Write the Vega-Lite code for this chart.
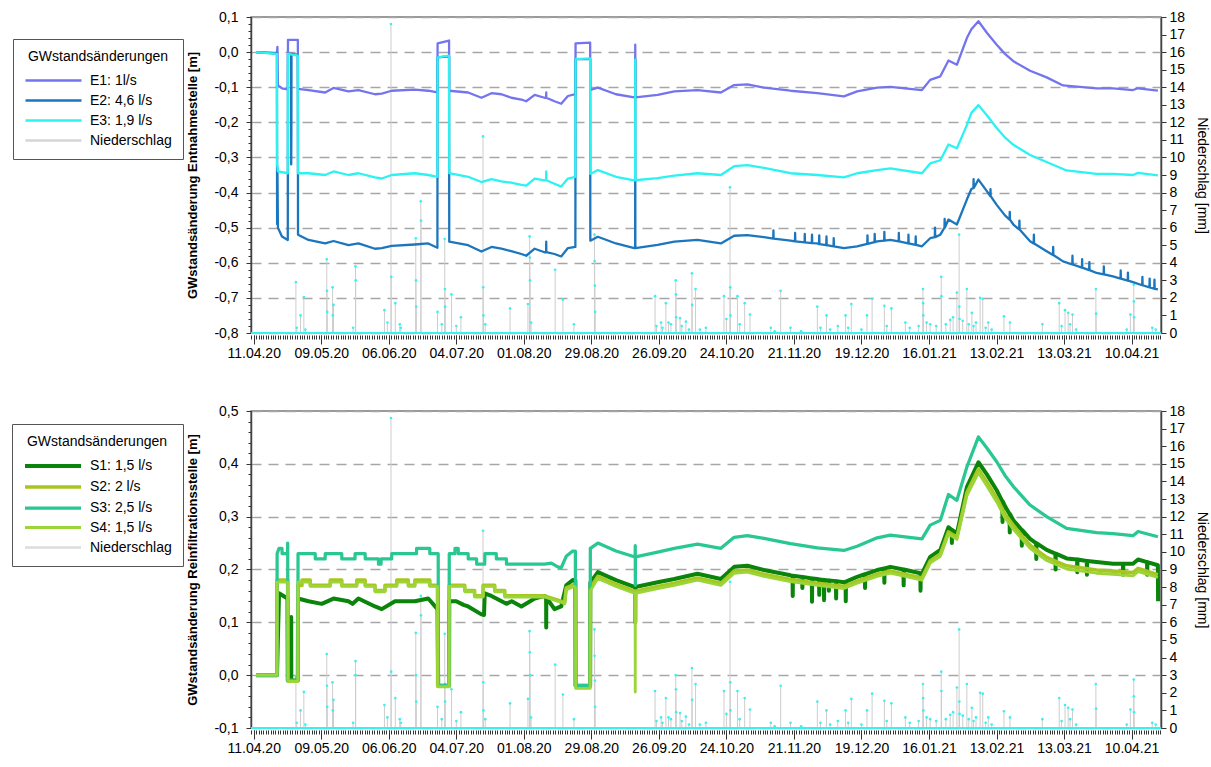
{
"$schema": "https://vega.github.io/schema/vega-lite/v6.json",
"padding": {"left": 10, "top": 9, "right": 5, "bottom": 5},
"spacing": 42,
"config": {
  "font": "Liberation Sans",
  "view": {"stroke": "#7a7a7a", "strokeWidth": 1.5},
  "axis": {"labelColor": "#000", "titleColor": "#000", "labelFontSize": 14, "labelOverlap": false, "labelFlush": false},
  "locale": {"number": {"decimal": ",", "thousands": ".", "grouping": [3], "currency": ["", " €"], "minus": "-"}}
},
"datasets": {
"precip": [
{"t":"2020-04-28T12:00","mm":2.9},{"t":"2020-04-28T20:00","mm":0.3},{"t":"2020-04-30T10:00","mm":1.0},{"t":"2020-05-01T19:00","mm":2.05},{"t":"2020-05-02T10:00","mm":0.2},
{"t":"2020-05-11T07:00","mm":4.2},{"t":"2020-05-11T09:00","mm":2.4},{"t":"2020-05-11T11:00","mm":1.2},{"t":"2020-05-13T17:00","mm":2.6},{"t":"2020-05-13T19:00","mm":1.0},
{"t":"2020-05-14T02:00","mm":1.6},{"t":"2020-05-22T05:00","mm":0.3},{"t":"2020-05-23T05:00","mm":3.8},{"t":"2020-05-23T07:00","mm":3.0},{"t":"2020-06-04T05:00","mm":1.3},
{"t":"2020-06-05T10:00","mm":0.6},{"t":"2020-06-06T22:00","mm":17.6},{"t":"2020-06-07T00:00","mm":3.2},{"t":"2020-06-08T17:00","mm":1.7},{"t":"2020-06-10T14:00","mm":0.5},
{"t":"2020-06-11T00:00","mm":0.3},{"t":"2020-06-17T05:00","mm":5.4},{"t":"2020-06-17T07:00","mm":3.0},{"t":"2020-06-17T09:00","mm":1.5},{"t":"2020-06-19T07:00","mm":7.5},
{"t":"2020-06-19T09:00","mm":6.4},{"t":"2020-06-26T05:00","mm":1.2},{"t":"2020-06-28T00:00","mm":0.5},{"t":"2020-06-29T05:00","mm":5.35},{"t":"2020-06-29T07:00","mm":2.5},
{"t":"2020-06-29T09:00","mm":1.5},{"t":"2020-07-02T00:00","mm":2.2},{"t":"2020-07-04T00:00","mm":0.4},{"t":"2020-07-05T22:00","mm":0.9},{"t":"2020-07-15T02:00","mm":11.2},
{"t":"2020-07-15T04:00","mm":2.6},{"t":"2020-07-15T06:00","mm":1.0},{"t":"2020-07-16T00:00","mm":0.5},{"t":"2020-07-26T07:00","mm":1.4},{"t":"2020-08-02T17:00","mm":1.65},
{"t":"2020-08-03T10:00","mm":5.5},{"t":"2020-08-03T12:00","mm":4.3},{"t":"2020-08-03T14:00","mm":3.0},{"t":"2020-08-04T00:00","mm":0.6},{"t":"2020-08-14T00:00","mm":3.6},
{"t":"2020-08-17T05:00","mm":1.9},{"t":"2020-08-21T19:00","mm":0.5},{"t":"2020-08-30T07:00","mm":5.6},{"t":"2020-08-30T09:00","mm":4.1},{"t":"2020-08-30T11:00","mm":2.7},
{"t":"2020-08-30T13:00","mm":1.2},{"t":"2020-09-24T10:00","mm":2.1},{"t":"2020-09-25T00:00","mm":0.4},{"t":"2020-09-26T22:00","mm":0.6},{"t":"2020-09-27T12:00","mm":0.3},
{"t":"2020-09-28T22:00","mm":1.7},{"t":"2020-09-30T00:00","mm":0.6},{"t":"2020-10-01T00:00","mm":0.5},{"t":"2020-10-03T00:00","mm":3.0},{"t":"2020-10-03T02:00","mm":2.2},
{"t":"2020-10-03T04:00","mm":0.9},{"t":"2020-10-04T19:00","mm":0.85},{"t":"2020-10-05T12:00","mm":0.4},{"t":"2020-10-07T05:00","mm":0.65},{"t":"2020-10-08T12:00","mm":0.2},
{"t":"2020-10-09T17:00","mm":3.4},{"t":"2020-10-09T19:00","mm":1.6},{"t":"2020-10-11T05:00","mm":2.5},{"t":"2020-10-13T00:00","mm":0.2},{"t":"2020-10-15T12:00","mm":0.3},
{"t":"2020-10-23T00:00","mm":2.1},{"t":"2020-10-24T00:00","mm":0.8},{"t":"2020-10-25T12:00","mm":8.3},{"t":"2020-10-25T14:00","mm":2.6},{"t":"2020-10-25T16:00","mm":1.0},
{"t":"2020-10-28T14:00","mm":2.1},{"t":"2020-10-29T12:00","mm":0.5},{"t":"2020-10-31T14:00","mm":1.7},{"t":"2020-11-02T19:00","mm":1.05},{"t":"2020-11-11T10:00","mm":0.3},
{"t":"2020-11-13T00:00","mm":0.1},{"t":"2020-11-15T12:00","mm":2.4},{"t":"2020-11-19T14:00","mm":0.3},{"t":"2020-11-24T00:00","mm":0.1},{"t":"2020-11-30T17:00","mm":1.5},
{"t":"2020-12-02T00:00","mm":0.3},{"t":"2020-12-04T12:00","mm":1.0},{"t":"2020-12-06T00:00","mm":0.2},{"t":"2020-12-09T05:00","mm":0.4},{"t":"2020-12-12T10:00","mm":1.0},
{"t":"2020-12-13T12:00","mm":0.3},{"t":"2020-12-14T19:00","mm":1.65},{"t":"2020-12-19T00:00","mm":0.2},{"t":"2020-12-21T07:00","mm":1.0},{"t":"2020-12-23T10:00","mm":1.95},
{"t":"2020-12-28T12:00","mm":1.55},{"t":"2020-12-29T12:00","mm":0.4},{"t":"2020-12-31T10:00","mm":1.4},{"t":"2021-01-06T05:00","mm":0.6},{"t":"2021-01-08T00:00","mm":0.3},
{"t":"2021-01-11T17:00","mm":0.4},{"t":"2021-01-13T12:00","mm":2.5},{"t":"2021-01-13T14:00","mm":1.7},{"t":"2021-01-13T16:00","mm":1.0},{"t":"2021-01-15T00:00","mm":0.6},
{"t":"2021-01-16T12:00","mm":0.5},{"t":"2021-01-19T00:00","mm":0.4},{"t":"2021-01-21T02:00","mm":3.2},{"t":"2021-01-21T04:00","mm":2.1},{"t":"2021-01-23T00:00","mm":0.5},
{"t":"2021-01-24T19:00","mm":0.75},{"t":"2021-01-26T00:00","mm":0.9},{"t":"2021-01-27T14:00","mm":2.3},{"t":"2021-01-28T12:00","mm":5.6},{"t":"2021-01-28T14:00","mm":1.5},
{"t":"2021-01-28T16:00","mm":0.8},{"t":"2021-01-30T00:00","mm":0.7},{"t":"2021-01-31T17:00","mm":2.5},{"t":"2021-02-01T12:00","mm":0.5},{"t":"2021-02-02T19:00","mm":1.15},
{"t":"2021-02-03T12:00","mm":0.4},{"t":"2021-02-04T12:00","mm":0.6},{"t":"2021-02-06T05:00","mm":2.0},{"t":"2021-02-07T07:00","mm":1.95},{"t":"2021-02-08T12:00","mm":0.3},
{"t":"2021-02-09T14:00","mm":0.6},{"t":"2021-02-11T00:00","mm":0.2},{"t":"2021-02-16T02:00","mm":0.95},{"t":"2021-02-18T14:00","mm":0.6},{"t":"2021-03-04T00:00","mm":0.5},
{"t":"2021-03-11T00:00","mm":1.7},{"t":"2021-03-12T00:00","mm":0.4},{"t":"2021-03-13T10:00","mm":1.3},{"t":"2021-03-14T17:00","mm":1.15},{"t":"2021-03-15T12:00","mm":0.5},
{"t":"2021-03-16T12:00","mm":1.05},{"t":"2021-03-18T00:00","mm":0.2},{"t":"2021-03-26T05:00","mm":2.5},{"t":"2021-03-26T07:00","mm":1.1},{"t":"2021-04-08T00:00","mm":0.2},
{"t":"2021-04-09T12:00","mm":1.05},{"t":"2021-04-10T22:00","mm":2.75},{"t":"2021-04-10T23:00","mm":1.8},{"t":"2021-04-11T01:00","mm":0.9},{"t":"2021-04-18T14:00","mm":0.3},
{"t":"2021-04-20T00:00","mm":0.2}
],
"top": [
{"s":"E1: 1l/s","t":"2020-04-12T00:00","v":0},{"s":"E1: 1l/s","t":"2020-04-20T15:00","v":-0.003},{"s":"E1: 1l/s","t":"2020-04-20T20:00","v":0.015},{"s":"E1: 1l/s","t":"2020-04-21T01:00","v":-0.095},
{"s":"E1: 1l/s","t":"2020-04-22T17:00","v":-0.103},{"s":"E1: 1l/s","t":"2020-04-25T03:00","v":-0.106},{"s":"E1: 1l/s","t":"2020-04-25T05:00","v":0.035},{"s":"E1: 1l/s","t":"2020-04-29T07:00","v":0.035},
{"s":"E1: 1l/s","t":"2020-04-29T09:00","v":-0.105},{"s":"E1: 1l/s","t":"2020-05-03T17:00","v":-0.108},{"s":"E1: 1l/s","t":"2020-05-10T15:00","v":-0.115},{"s":"E1: 1l/s","t":"2020-05-14T02:00","v":-0.102},
{"s":"E1: 1l/s","t":"2020-05-20T07:00","v":-0.112},{"s":"E1: 1l/s","t":"2020-05-24T10:00","v":-0.108},{"s":"E1: 1l/s","t":"2020-05-31T07:00","v":-0.12},{"s":"E1: 1l/s","t":"2020-06-03T02:00","v":-0.118},
{"s":"E1: 1l/s","t":"2020-06-07T05:00","v":-0.11},{"s":"E1: 1l/s","t":"2020-06-16T19:00","v":-0.107},{"s":"E1: 1l/s","t":"2020-06-22T09:00","v":-0.11},{"s":"E1: 1l/s","t":"2020-06-26T04:00","v":-0.115},
{"s":"E1: 1l/s","t":"2020-06-26T06:00","v":0.025},{"s":"E1: 1l/s","t":"2020-07-01T00:00","v":0.033},{"s":"E1: 1l/s","t":"2020-07-01T02:00","v":-0.11},{"s":"E1: 1l/s","t":"2020-07-08T22:00","v":-0.115},
{"s":"E1: 1l/s","t":"2020-07-14T10:00","v":-0.13},{"s":"E1: 1l/s","t":"2020-07-18T14:00","v":-0.117},{"s":"E1: 1l/s","t":"2020-07-22T17:00","v":-0.12},{"s":"E1: 1l/s","t":"2020-07-26T19:00","v":-0.13},
{"s":"E1: 1l/s","t":"2020-07-31T00:00","v":-0.135},{"s":"E1: 1l/s","t":"2020-08-02T00:00","v":-0.14},{"s":"E1: 1l/s","t":"2020-08-05T12:00","v":-0.122},{"s":"E1: 1l/s","t":"2020-08-09T14:00","v":-0.13},
{"s":"E1: 1l/s","t":"2020-08-10T06:00","v":-0.13},{"s":"E1: 1l/s","t":"2020-08-10T07:00","v":-0.115},{"s":"E1: 1l/s","t":"2020-08-10T08:00","v":-0.13},{"s":"E1: 1l/s","t":"2020-08-13T17:00","v":-0.14},
{"s":"E1: 1l/s","t":"2020-08-16T12:00","v":-0.147},{"s":"E1: 1l/s","t":"2020-08-19T07:00","v":-0.125},{"s":"E1: 1l/s","t":"2020-08-22T09:00","v":-0.12},{"s":"E1: 1l/s","t":"2020-08-22T11:00","v":0.025},
{"s":"E1: 1l/s","t":"2020-08-28T12:00","v":0.027},{"s":"E1: 1l/s","t":"2020-08-28T14:00","v":-0.108},{"s":"E1: 1l/s","t":"2020-08-31T17:00","v":-0.101},{"s":"E1: 1l/s","t":"2020-09-08T05:00","v":-0.12},
{"s":"E1: 1l/s","t":"2020-09-15T19:00","v":-0.129},{"s":"E1: 1l/s","t":"2020-09-16T04:00","v":-0.129},{"s":"E1: 1l/s","t":"2020-09-16T05:00","v":0.021},{"s":"E1: 1l/s","t":"2020-09-16T06:00","v":-0.129},
{"s":"E1: 1l/s","t":"2020-09-25T12:00","v":-0.122},{"s":"E1: 1l/s","t":"2020-10-02T10:00","v":-0.112},{"s":"E1: 1l/s","t":"2020-10-12T00:00","v":-0.108},{"s":"E1: 1l/s","t":"2020-10-21T17:00","v":-0.115},
{"s":"E1: 1l/s","t":"2020-10-27T05:00","v":-0.094},{"s":"E1: 1l/s","t":"2020-11-01T17:00","v":-0.092},{"s":"E1: 1l/s","t":"2020-11-08T14:00","v":-0.101},{"s":"E1: 1l/s","t":"2020-11-19T14:00","v":-0.11},
{"s":"E1: 1l/s","t":"2020-11-30T17:00","v":-0.117},{"s":"E1: 1l/s","t":"2020-12-11T17:00","v":-0.126},{"s":"E1: 1l/s","t":"2020-12-17T05:00","v":-0.112},{"s":"E1: 1l/s","t":"2020-12-25T12:00","v":-0.101},
{"s":"E1: 1l/s","t":"2020-12-31T00:00","v":-0.099},{"s":"E1: 1l/s","t":"2021-01-13T02:00","v":-0.108},{"s":"E1: 1l/s","t":"2021-01-16T12:00","v":-0.079},{"s":"E1: 1l/s","t":"2021-01-20T17:00","v":-0.069},
{"s":"E1: 1l/s","t":"2021-01-24T02:00","v":-0.024},{"s":"E1: 1l/s","t":"2021-01-27T14:00","v":-0.036},{"s":"E1: 1l/s","t":"2021-01-31T17:00","v":0.04},{"s":"E1: 1l/s","t":"2021-02-02T14:00","v":0.065},
{"s":"E1: 1l/s","t":"2021-02-05T12:00","v":0.088},{"s":"E1: 1l/s","t":"2021-02-09T00:00","v":0.055},{"s":"E1: 1l/s","t":"2021-02-13T02:00","v":0.021},{"s":"E1: 1l/s","t":"2021-02-16T12:00","v":-0.005},
{"s":"E1: 1l/s","t":"2021-02-20T00:00","v":-0.026},{"s":"E1: 1l/s","t":"2021-02-26T22:00","v":-0.053},{"s":"E1: 1l/s","t":"2021-03-05T19:00","v":-0.072},{"s":"E1: 1l/s","t":"2021-03-12T14:00","v":-0.095},
{"s":"E1: 1l/s","t":"2021-03-26T12:00","v":-0.103},{"s":"E1: 1l/s","t":"2021-04-02T07:00","v":-0.103},{"s":"E1: 1l/s","t":"2021-04-10T14:00","v":-0.108},{"s":"E1: 1l/s","t":"2021-04-12T17:00","v":-0.103},
{"s":"E1: 1l/s","t":"2021-04-20T22:00","v":-0.11},

{"s":"E2: 4,6 l/s","t":"2020-04-12T00:00","v":0},{"s":"E2: 4,6 l/s","t":"2020-04-20T15:00","v":-0.004},{"s":"E2: 4,6 l/s","t":"2020-04-20T17:00","v":-0.49},{"s":"E2: 4,6 l/s","t":"2020-04-20T20:00","v":-0.33},
{"s":"E2: 4,6 l/s","t":"2020-04-21T01:00","v":-0.5},{"s":"E2: 4,6 l/s","t":"2020-04-22T17:00","v":-0.525},{"s":"E2: 4,6 l/s","t":"2020-04-25T03:00","v":-0.535},{"s":"E2: 4,6 l/s","t":"2020-04-25T05:00","v":-0.005},
{"s":"E2: 4,6 l/s","t":"2020-04-26T12:00","v":-0.005},{"s":"E2: 4,6 l/s","t":"2020-04-26T13:00","v":-0.32},{"s":"E2: 4,6 l/s","t":"2020-04-26T15:00","v":-0.22},{"s":"E2: 4,6 l/s","t":"2020-04-26T16:00","v":-0.005},
{"s":"E2: 4,6 l/s","t":"2020-04-29T07:00","v":-0.008},{"s":"E2: 4,6 l/s","t":"2020-04-29T09:00","v":-0.52},{"s":"E2: 4,6 l/s","t":"2020-05-03T17:00","v":-0.535},{"s":"E2: 4,6 l/s","t":"2020-05-10T15:00","v":-0.545},
{"s":"E2: 4,6 l/s","t":"2020-05-14T02:00","v":-0.538},{"s":"E2: 4,6 l/s","t":"2020-05-20T07:00","v":-0.55},{"s":"E2: 4,6 l/s","t":"2020-05-24T10:00","v":-0.545},{"s":"E2: 4,6 l/s","t":"2020-05-31T07:00","v":-0.56},
{"s":"E2: 4,6 l/s","t":"2020-06-03T02:00","v":-0.558},{"s":"E2: 4,6 l/s","t":"2020-06-07T05:00","v":-0.552},{"s":"E2: 4,6 l/s","t":"2020-06-16T19:00","v":-0.548},{"s":"E2: 4,6 l/s","t":"2020-06-22T09:00","v":-0.545},
{"s":"E2: 4,6 l/s","t":"2020-06-26T04:00","v":-0.557},{"s":"E2: 4,6 l/s","t":"2020-06-26T06:00","v":-0.015},{"s":"E2: 4,6 l/s","t":"2020-07-01T00:00","v":-0.012},{"s":"E2: 4,6 l/s","t":"2020-07-01T02:00","v":-0.54},
{"s":"E2: 4,6 l/s","t":"2020-07-08T22:00","v":-0.55},{"s":"E2: 4,6 l/s","t":"2020-07-14T10:00","v":-0.568},{"s":"E2: 4,6 l/s","t":"2020-07-18T14:00","v":-0.555},{"s":"E2: 4,6 l/s","t":"2020-07-22T17:00","v":-0.56},
{"s":"E2: 4,6 l/s","t":"2020-07-26T19:00","v":-0.567},{"s":"E2: 4,6 l/s","t":"2020-07-31T00:00","v":-0.575},{"s":"E2: 4,6 l/s","t":"2020-08-02T00:00","v":-0.58},{"s":"E2: 4,6 l/s","t":"2020-08-05T12:00","v":-0.56},
{"s":"E2: 4,6 l/s","t":"2020-08-09T14:00","v":-0.57},{"s":"E2: 4,6 l/s","t":"2020-08-10T06:00","v":-0.57},{"s":"E2: 4,6 l/s","t":"2020-08-10T07:00","v":-0.54},{"s":"E2: 4,6 l/s","t":"2020-08-10T08:00","v":-0.57},
{"s":"E2: 4,6 l/s","t":"2020-08-13T17:00","v":-0.575},{"s":"E2: 4,6 l/s","t":"2020-08-16T12:00","v":-0.582},{"s":"E2: 4,6 l/s","t":"2020-08-19T07:00","v":-0.558},{"s":"E2: 4,6 l/s","t":"2020-08-22T09:00","v":-0.555},
{"s":"E2: 4,6 l/s","t":"2020-08-22T11:00","v":-0.02},{"s":"E2: 4,6 l/s","t":"2020-08-28T12:00","v":-0.02},{"s":"E2: 4,6 l/s","t":"2020-08-28T14:00","v":-0.537},{"s":"E2: 4,6 l/s","t":"2020-08-31T17:00","v":-0.526},
{"s":"E2: 4,6 l/s","t":"2020-09-08T05:00","v":-0.545},{"s":"E2: 4,6 l/s","t":"2020-09-15T19:00","v":-0.558},{"s":"E2: 4,6 l/s","t":"2020-09-16T04:00","v":-0.558},{"s":"E2: 4,6 l/s","t":"2020-09-16T05:00","v":-0.02},
{"s":"E2: 4,6 l/s","t":"2020-09-16T06:00","v":-0.558},{"s":"E2: 4,6 l/s","t":"2020-09-25T12:00","v":-0.549},{"s":"E2: 4,6 l/s","t":"2020-10-02T10:00","v":-0.54},{"s":"E2: 4,6 l/s","t":"2020-10-12T00:00","v":-0.535},
{"s":"E2: 4,6 l/s","t":"2020-10-21T17:00","v":-0.545},{"s":"E2: 4,6 l/s","t":"2020-10-27T05:00","v":-0.523},{"s":"E2: 4,6 l/s","t":"2020-11-01T17:00","v":-0.521},{"s":"E2: 4,6 l/s","t":"2020-11-08T14:00","v":-0.527},
{"s":"E2: 4,6 l/s","t":"2020-11-19T14:00","v":-0.537},{"s":"E2: 4,6 l/s","t":"2020-11-30T17:00","v":-0.545},{"s":"E2: 4,6 l/s","t":"2020-12-11T17:00","v":-0.558},{"s":"E2: 4,6 l/s","t":"2020-12-17T05:00","v":-0.553},
{"s":"E2: 4,6 l/s","t":"2020-12-25T12:00","v":-0.539},{"s":"E2: 4,6 l/s","t":"2020-12-31T00:00","v":-0.535},{"s":"E2: 4,6 l/s","t":"2021-01-13T02:00","v":-0.553},{"s":"E2: 4,6 l/s","t":"2021-01-16T12:00","v":-0.53},
{"s":"E2: 4,6 l/s","t":"2021-01-20T17:00","v":-0.52},{"s":"E2: 4,6 l/s","t":"2021-01-24T02:00","v":-0.477},{"s":"E2: 4,6 l/s","t":"2021-01-27T14:00","v":-0.491},{"s":"E2: 4,6 l/s","t":"2021-01-31T17:00","v":-0.42},
{"s":"E2: 4,6 l/s","t":"2021-02-02T14:00","v":-0.39},{"s":"E2: 4,6 l/s","t":"2021-02-05T12:00","v":-0.363},{"s":"E2: 4,6 l/s","t":"2021-02-09T00:00","v":-0.396},{"s":"E2: 4,6 l/s","t":"2021-02-13T02:00","v":-0.435},
{"s":"E2: 4,6 l/s","t":"2021-02-16T12:00","v":-0.465},{"s":"E2: 4,6 l/s","t":"2021-02-20T00:00","v":-0.491},{"s":"E2: 4,6 l/s","t":"2021-02-26T22:00","v":-0.539},{"s":"E2: 4,6 l/s","t":"2021-03-05T19:00","v":-0.567},
{"s":"E2: 4,6 l/s","t":"2021-03-12T14:00","v":-0.596},{"s":"E2: 4,6 l/s","t":"2021-03-26T12:00","v":-0.629},{"s":"E2: 4,6 l/s","t":"2021-04-02T07:00","v":-0.639},{"s":"E2: 4,6 l/s","t":"2021-04-10T14:00","v":-0.655},
{"s":"E2: 4,6 l/s","t":"2021-04-20T22:00","v":-0.676},
{"s":"E2: 4,6 l/s","t":"2020-11-12T10:00","v":-0.531},{"s":"E2: 4,6 l/s","t":"2020-11-12T12:00","v":-0.508},{"s":"E2: 4,6 l/s","t":"2020-11-12T14:00","v":-0.531},
{"s":"E2: 4,6 l/s","t":"2020-11-21T10:00","v":-0.539},{"s":"E2: 4,6 l/s","t":"2020-11-21T12:00","v":-0.515},{"s":"E2: 4,6 l/s","t":"2020-11-21T14:00","v":-0.539},
{"s":"E2: 4,6 l/s","t":"2020-11-25T10:00","v":-0.542},{"s":"E2: 4,6 l/s","t":"2020-11-25T12:00","v":-0.518},{"s":"E2: 4,6 l/s","t":"2020-11-25T14:00","v":-0.542},
{"s":"E2: 4,6 l/s","t":"2020-11-28T10:00","v":-0.544},{"s":"E2: 4,6 l/s","t":"2020-11-28T12:00","v":-0.52},{"s":"E2: 4,6 l/s","t":"2020-11-28T14:00","v":-0.544},
{"s":"E2: 4,6 l/s","t":"2020-12-01T10:00","v":-0.547},{"s":"E2: 4,6 l/s","t":"2020-12-01T12:00","v":-0.522},{"s":"E2: 4,6 l/s","t":"2020-12-01T14:00","v":-0.547},
{"s":"E2: 4,6 l/s","t":"2020-12-04T10:00","v":-0.55},{"s":"E2: 4,6 l/s","t":"2020-12-04T12:00","v":-0.525},{"s":"E2: 4,6 l/s","t":"2020-12-04T14:00","v":-0.55},
{"s":"E2: 4,6 l/s","t":"2020-12-07T10:00","v":-0.553},{"s":"E2: 4,6 l/s","t":"2020-12-07T12:00","v":-0.53},{"s":"E2: 4,6 l/s","t":"2020-12-07T14:00","v":-0.553},
{"s":"E2: 4,6 l/s","t":"2020-12-21T10:00","v":-0.546},{"s":"E2: 4,6 l/s","t":"2020-12-21T12:00","v":-0.522},{"s":"E2: 4,6 l/s","t":"2020-12-21T14:00","v":-0.546},
{"s":"E2: 4,6 l/s","t":"2020-12-24T10:00","v":-0.541},{"s":"E2: 4,6 l/s","t":"2020-12-24T12:00","v":-0.518},{"s":"E2: 4,6 l/s","t":"2020-12-24T14:00","v":-0.541},
{"s":"E2: 4,6 l/s","t":"2020-12-28T10:00","v":-0.537},{"s":"E2: 4,6 l/s","t":"2020-12-28T12:00","v":-0.512},{"s":"E2: 4,6 l/s","t":"2020-12-28T14:00","v":-0.537},
{"s":"E2: 4,6 l/s","t":"2021-01-03T10:00","v":-0.539},{"s":"E2: 4,6 l/s","t":"2021-01-03T12:00","v":-0.515},{"s":"E2: 4,6 l/s","t":"2021-01-03T14:00","v":-0.539},
{"s":"E2: 4,6 l/s","t":"2021-01-07T10:00","v":-0.545},{"s":"E2: 4,6 l/s","t":"2021-01-07T12:00","v":-0.52},{"s":"E2: 4,6 l/s","t":"2021-01-07T14:00","v":-0.545},
{"s":"E2: 4,6 l/s","t":"2021-01-10T10:00","v":-0.549},{"s":"E2: 4,6 l/s","t":"2021-01-10T12:00","v":-0.525},{"s":"E2: 4,6 l/s","t":"2021-01-10T14:00","v":-0.549},
{"s":"E2: 4,6 l/s","t":"2021-01-18T10:00","v":-0.527},{"s":"E2: 4,6 l/s","t":"2021-01-18T12:00","v":-0.5},{"s":"E2: 4,6 l/s","t":"2021-01-18T14:00","v":-0.527},
{"s":"E2: 4,6 l/s","t":"2021-01-22T10:00","v":-0.5},{"s":"E2: 4,6 l/s","t":"2021-01-22T12:00","v":-0.475},{"s":"E2: 4,6 l/s","t":"2021-01-22T14:00","v":-0.5},
{"s":"E2: 4,6 l/s","t":"2021-02-03T10:00","v":-0.387},{"s":"E2: 4,6 l/s","t":"2021-02-03T12:00","v":-0.362},{"s":"E2: 4,6 l/s","t":"2021-02-03T14:00","v":-0.387},
{"s":"E2: 4,6 l/s","t":"2021-02-10T10:00","v":-0.41},{"s":"E2: 4,6 l/s","t":"2021-02-10T12:00","v":-0.39},{"s":"E2: 4,6 l/s","t":"2021-02-10T14:00","v":-0.41},
{"s":"E2: 4,6 l/s","t":"2021-02-18T10:00","v":-0.477},{"s":"E2: 4,6 l/s","t":"2021-02-18T12:00","v":-0.455},{"s":"E2: 4,6 l/s","t":"2021-02-18T14:00","v":-0.477},
{"s":"E2: 4,6 l/s","t":"2021-02-22T10:00","v":-0.505},{"s":"E2: 4,6 l/s","t":"2021-02-22T12:00","v":-0.48},{"s":"E2: 4,6 l/s","t":"2021-02-22T14:00","v":-0.505},
{"s":"E2: 4,6 l/s","t":"2021-02-28T10:00","v":-0.545},{"s":"E2: 4,6 l/s","t":"2021-02-28T12:00","v":-0.52},{"s":"E2: 4,6 l/s","t":"2021-02-28T14:00","v":-0.545},
{"s":"E2: 4,6 l/s","t":"2021-03-08T10:00","v":-0.578},{"s":"E2: 4,6 l/s","t":"2021-03-08T12:00","v":-0.555},{"s":"E2: 4,6 l/s","t":"2021-03-08T14:00","v":-0.578},
{"s":"E2: 4,6 l/s","t":"2021-03-16T10:00","v":-0.605},{"s":"E2: 4,6 l/s","t":"2021-03-16T12:00","v":-0.58},{"s":"E2: 4,6 l/s","t":"2021-03-16T14:00","v":-0.605},
{"s":"E2: 4,6 l/s","t":"2021-03-20T10:00","v":-0.614},{"s":"E2: 4,6 l/s","t":"2021-03-20T12:00","v":-0.59},{"s":"E2: 4,6 l/s","t":"2021-03-20T14:00","v":-0.614},
{"s":"E2: 4,6 l/s","t":"2021-03-23T10:00","v":-0.621},{"s":"E2: 4,6 l/s","t":"2021-03-23T12:00","v":-0.598},{"s":"E2: 4,6 l/s","t":"2021-03-23T14:00","v":-0.621},
{"s":"E2: 4,6 l/s","t":"2021-03-29T10:00","v":-0.633},{"s":"E2: 4,6 l/s","t":"2021-03-29T12:00","v":-0.61},{"s":"E2: 4,6 l/s","t":"2021-03-29T14:00","v":-0.633},
{"s":"E2: 4,6 l/s","t":"2021-04-05T10:00","v":-0.645},{"s":"E2: 4,6 l/s","t":"2021-04-05T12:00","v":-0.622},{"s":"E2: 4,6 l/s","t":"2021-04-05T14:00","v":-0.645},
{"s":"E2: 4,6 l/s","t":"2021-04-08T10:00","v":-0.651},{"s":"E2: 4,6 l/s","t":"2021-04-08T12:00","v":-0.628},{"s":"E2: 4,6 l/s","t":"2021-04-08T14:00","v":-0.651},
{"s":"E2: 4,6 l/s","t":"2021-04-14T10:00","v":-0.664},{"s":"E2: 4,6 l/s","t":"2021-04-14T12:00","v":-0.64},{"s":"E2: 4,6 l/s","t":"2021-04-14T14:00","v":-0.664},
{"s":"E2: 4,6 l/s","t":"2021-04-17T10:00","v":-0.67},{"s":"E2: 4,6 l/s","t":"2021-04-17T12:00","v":-0.645},{"s":"E2: 4,6 l/s","t":"2021-04-17T14:00","v":-0.67},
{"s":"E2: 4,6 l/s","t":"2021-04-19T10:00","v":-0.674},{"s":"E2: 4,6 l/s","t":"2021-04-19T12:00","v":-0.648},{"s":"E2: 4,6 l/s","t":"2021-04-19T14:00","v":-0.674},

{"s":"E3: 1,9 l/s","t":"2020-04-12T00:00","v":0},{"s":"E3: 1,9 l/s","t":"2020-04-20T15:00","v":-0.005},{"s":"E3: 1,9 l/s","t":"2020-04-20T17:00","v":-0.32},{"s":"E3: 1,9 l/s","t":"2020-04-21T01:00","v":-0.34},
{"s":"E3: 1,9 l/s","t":"2020-04-22T17:00","v":-0.342},{"s":"E3: 1,9 l/s","t":"2020-04-25T03:00","v":-0.345},{"s":"E3: 1,9 l/s","t":"2020-04-25T05:00","v":-0.005},{"s":"E3: 1,9 l/s","t":"2020-04-29T07:00","v":-0.01},
{"s":"E3: 1,9 l/s","t":"2020-04-29T09:00","v":-0.345},{"s":"E3: 1,9 l/s","t":"2020-05-03T17:00","v":-0.345},{"s":"E3: 1,9 l/s","t":"2020-05-10T15:00","v":-0.35},{"s":"E3: 1,9 l/s","t":"2020-05-14T02:00","v":-0.34},
{"s":"E3: 1,9 l/s","t":"2020-05-20T07:00","v":-0.35},{"s":"E3: 1,9 l/s","t":"2020-05-24T10:00","v":-0.345},{"s":"E3: 1,9 l/s","t":"2020-05-31T07:00","v":-0.357},{"s":"E3: 1,9 l/s","t":"2020-06-03T02:00","v":-0.36},
{"s":"E3: 1,9 l/s","t":"2020-06-07T05:00","v":-0.35},{"s":"E3: 1,9 l/s","t":"2020-06-16T19:00","v":-0.345},{"s":"E3: 1,9 l/s","t":"2020-06-22T09:00","v":-0.35},{"s":"E3: 1,9 l/s","t":"2020-06-26T04:00","v":-0.355},
{"s":"E3: 1,9 l/s","t":"2020-06-26T06:00","v":-0.015},{"s":"E3: 1,9 l/s","t":"2020-07-01T00:00","v":-0.01},{"s":"E3: 1,9 l/s","t":"2020-07-01T02:00","v":-0.345},{"s":"E3: 1,9 l/s","t":"2020-07-08T22:00","v":-0.355},
{"s":"E3: 1,9 l/s","t":"2020-07-14T10:00","v":-0.37},{"s":"E3: 1,9 l/s","t":"2020-07-18T14:00","v":-0.362},{"s":"E3: 1,9 l/s","t":"2020-07-22T17:00","v":-0.368},{"s":"E3: 1,9 l/s","t":"2020-07-26T19:00","v":-0.372},
{"s":"E3: 1,9 l/s","t":"2020-07-31T00:00","v":-0.378},{"s":"E3: 1,9 l/s","t":"2020-08-02T00:00","v":-0.38},{"s":"E3: 1,9 l/s","t":"2020-08-05T12:00","v":-0.36},{"s":"E3: 1,9 l/s","t":"2020-08-09T14:00","v":-0.365},
{"s":"E3: 1,9 l/s","t":"2020-08-10T06:00","v":-0.365},{"s":"E3: 1,9 l/s","t":"2020-08-10T07:00","v":-0.34},{"s":"E3: 1,9 l/s","t":"2020-08-10T08:00","v":-0.365},{"s":"E3: 1,9 l/s","t":"2020-08-13T17:00","v":-0.375},
{"s":"E3: 1,9 l/s","t":"2020-08-16T12:00","v":-0.383},{"s":"E3: 1,9 l/s","t":"2020-08-19T07:00","v":-0.36},{"s":"E3: 1,9 l/s","t":"2020-08-22T09:00","v":-0.355},{"s":"E3: 1,9 l/s","t":"2020-08-22T11:00","v":-0.02},
{"s":"E3: 1,9 l/s","t":"2020-08-28T12:00","v":-0.018},{"s":"E3: 1,9 l/s","t":"2020-08-28T14:00","v":-0.347},{"s":"E3: 1,9 l/s","t":"2020-08-31T17:00","v":-0.336},{"s":"E3: 1,9 l/s","t":"2020-09-08T05:00","v":-0.355},
{"s":"E3: 1,9 l/s","t":"2020-09-15T19:00","v":-0.365},{"s":"E3: 1,9 l/s","t":"2020-09-16T04:00","v":-0.365},{"s":"E3: 1,9 l/s","t":"2020-09-16T05:00","v":-0.021},{"s":"E3: 1,9 l/s","t":"2020-09-16T06:00","v":-0.365},
{"s":"E3: 1,9 l/s","t":"2020-09-25T12:00","v":-0.359},{"s":"E3: 1,9 l/s","t":"2020-10-02T10:00","v":-0.352},{"s":"E3: 1,9 l/s","t":"2020-10-12T00:00","v":-0.345},{"s":"E3: 1,9 l/s","t":"2020-10-21T17:00","v":-0.35},
{"s":"E3: 1,9 l/s","t":"2020-10-27T05:00","v":-0.325},{"s":"E3: 1,9 l/s","t":"2020-11-01T17:00","v":-0.322},{"s":"E3: 1,9 l/s","t":"2020-11-08T14:00","v":-0.33},{"s":"E3: 1,9 l/s","t":"2020-11-19T14:00","v":-0.345},
{"s":"E3: 1,9 l/s","t":"2020-11-30T17:00","v":-0.35},{"s":"E3: 1,9 l/s","t":"2020-12-11T17:00","v":-0.357},{"s":"E3: 1,9 l/s","t":"2020-12-17T05:00","v":-0.345},{"s":"E3: 1,9 l/s","t":"2020-12-25T12:00","v":-0.336},
{"s":"E3: 1,9 l/s","t":"2020-12-31T00:00","v":-0.331},{"s":"E3: 1,9 l/s","t":"2021-01-13T02:00","v":-0.345},{"s":"E3: 1,9 l/s","t":"2021-01-16T12:00","v":-0.317},{"s":"E3: 1,9 l/s","t":"2021-01-20T17:00","v":-0.308},
{"s":"E3: 1,9 l/s","t":"2021-01-24T02:00","v":-0.263},{"s":"E3: 1,9 l/s","t":"2021-01-27T14:00","v":-0.274},{"s":"E3: 1,9 l/s","t":"2021-01-31T17:00","v":-0.208},{"s":"E3: 1,9 l/s","t":"2021-02-02T14:00","v":-0.173},
{"s":"E3: 1,9 l/s","t":"2021-02-05T12:00","v":-0.151},{"s":"E3: 1,9 l/s","t":"2021-02-09T00:00","v":-0.18},{"s":"E3: 1,9 l/s","t":"2021-02-13T02:00","v":-0.216},{"s":"E3: 1,9 l/s","t":"2021-02-16T12:00","v":-0.243},
{"s":"E3: 1,9 l/s","t":"2021-02-20T00:00","v":-0.264},{"s":"E3: 1,9 l/s","t":"2021-02-26T22:00","v":-0.293},{"s":"E3: 1,9 l/s","t":"2021-03-05T19:00","v":-0.313},{"s":"E3: 1,9 l/s","t":"2021-03-14T02:00","v":-0.337},
{"s":"E3: 1,9 l/s","t":"2021-03-26T12:00","v":-0.347},{"s":"E3: 1,9 l/s","t":"2021-04-02T07:00","v":-0.347},{"s":"E3: 1,9 l/s","t":"2021-04-10T14:00","v":-0.35},{"s":"E3: 1,9 l/s","t":"2021-04-12T17:00","v":-0.344},
{"s":"E3: 1,9 l/s","t":"2021-04-20T22:00","v":-0.351}
],
"bot": [
{"s":"S1: 1,5 l/s","t":"2020-04-12T00:00","v":0},{"s":"S1: 1,5 l/s","t":"2020-04-20T15:00","v":0},{"s":"S1: 1,5 l/s","t":"2020-04-20T17:00","v":0.01},{"s":"S1: 1,5 l/s","t":"2020-04-21T12:00","v":0.155},
{"s":"S1: 1,5 l/s","t":"2020-04-25T00:00","v":0.145},{"s":"S1: 1,5 l/s","t":"2020-04-25T03:00","v":-0.01},{"s":"S1: 1,5 l/s","t":"2020-04-26T12:00","v":-0.01},{"s":"S1: 1,5 l/s","t":"2020-04-26T13:00","v":0.11},
{"s":"S1: 1,5 l/s","t":"2020-04-26T14:00","v":-0.01},{"s":"S1: 1,5 l/s","t":"2020-04-29T07:00","v":-0.01},{"s":"S1: 1,5 l/s","t":"2020-04-29T09:00","v":0.145},{"s":"S1: 1,5 l/s","t":"2020-05-03T17:00","v":0.14},
{"s":"S1: 1,5 l/s","t":"2020-05-09T05:00","v":0.135},{"s":"S1: 1,5 l/s","t":"2020-05-14T02:00","v":0.145},{"s":"S1: 1,5 l/s","t":"2020-05-20T07:00","v":0.14},{"s":"S1: 1,5 l/s","t":"2020-05-22T00:00","v":0.135},
{"s":"S1: 1,5 l/s","t":"2020-05-24T10:00","v":0.145},{"s":"S1: 1,5 l/s","t":"2020-05-31T07:00","v":0.13},{"s":"S1: 1,5 l/s","t":"2020-06-03T02:00","v":0.125},{"s":"S1: 1,5 l/s","t":"2020-06-08T14:00","v":0.14},
{"s":"S1: 1,5 l/s","t":"2020-06-16T19:00","v":0.14},{"s":"S1: 1,5 l/s","t":"2020-06-22T09:00","v":0.145},{"s":"S1: 1,5 l/s","t":"2020-06-26T05:00","v":0.125},{"s":"S1: 1,5 l/s","t":"2020-06-26T12:00","v":-0.02},
{"s":"S1: 1,5 l/s","t":"2020-07-01T00:00","v":-0.02},{"s":"S1: 1,5 l/s","t":"2020-07-01T02:00","v":0.14},{"s":"S1: 1,5 l/s","t":"2020-07-04T00:00","v":0.14},{"s":"S1: 1,5 l/s","t":"2020-07-07T00:00","v":0.133},
{"s":"S1: 1,5 l/s","t":"2020-07-08T22:00","v":0.13},{"s":"S1: 1,5 l/s","t":"2020-07-14T10:00","v":0.115},{"s":"S1: 1,5 l/s","t":"2020-07-15T12:00","v":0.114},{"s":"S1: 1,5 l/s","t":"2020-07-15T19:00","v":0.155},
{"s":"S1: 1,5 l/s","t":"2020-07-18T14:00","v":0.15},{"s":"S1: 1,5 l/s","t":"2020-07-24T19:00","v":0.135},{"s":"S1: 1,5 l/s","t":"2020-07-27T00:00","v":0.14},{"s":"S1: 1,5 l/s","t":"2020-07-31T00:00","v":0.13},
{"s":"S1: 1,5 l/s","t":"2020-08-05T12:00","v":0.145},{"s":"S1: 1,5 l/s","t":"2020-08-09T14:00","v":0.15},{"s":"S1: 1,5 l/s","t":"2020-08-10T06:00","v":0.148},{"s":"S1: 1,5 l/s","t":"2020-08-10T07:00","v":0.09},
{"s":"S1: 1,5 l/s","t":"2020-08-10T08:00","v":0.147},{"s":"S1: 1,5 l/s","t":"2020-08-13T17:00","v":0.125},{"s":"S1: 1,5 l/s","t":"2020-08-16T12:00","v":0.13},{"s":"S1: 1,5 l/s","t":"2020-08-18T14:00","v":0.17},
{"s":"S1: 1,5 l/s","t":"2020-08-21T07:00","v":0.18},{"s":"S1: 1,5 l/s","t":"2020-08-22T09:00","v":0.18},{"s":"S1: 1,5 l/s","t":"2020-08-22T11:00","v":-0.02},{"s":"S1: 1,5 l/s","t":"2020-08-28T12:00","v":-0.02},
{"s":"S1: 1,5 l/s","t":"2020-08-28T14:00","v":0.175},{"s":"S1: 1,5 l/s","t":"2020-08-31T17:00","v":0.195},{"s":"S1: 1,5 l/s","t":"2020-09-08T05:00","v":0.18},{"s":"S1: 1,5 l/s","t":"2020-09-15T19:00","v":0.167},
{"s":"S1: 1,5 l/s","t":"2020-09-16T04:00","v":0.167},{"s":"S1: 1,5 l/s","t":"2020-09-16T05:00","v":0.1},{"s":"S1: 1,5 l/s","t":"2020-09-16T06:00","v":0.167},{"s":"S1: 1,5 l/s","t":"2020-09-25T12:00","v":0.176},
{"s":"S1: 1,5 l/s","t":"2020-10-02T10:00","v":0.182},{"s":"S1: 1,5 l/s","t":"2020-10-12T00:00","v":0.192},{"s":"S1: 1,5 l/s","t":"2020-10-21T17:00","v":0.182},{"s":"S1: 1,5 l/s","t":"2020-10-27T05:00","v":0.205},
{"s":"S1: 1,5 l/s","t":"2020-11-01T17:00","v":0.207},{"s":"S1: 1,5 l/s","t":"2020-11-08T14:00","v":0.199},{"s":"S1: 1,5 l/s","t":"2020-11-19T14:00","v":0.189},{"s":"S1: 1,5 l/s","t":"2020-11-30T17:00","v":0.182},
{"s":"S1: 1,5 l/s","t":"2020-12-11T17:00","v":0.176},{"s":"S1: 1,5 l/s","t":"2020-12-17T05:00","v":0.186},{"s":"S1: 1,5 l/s","t":"2020-12-25T12:00","v":0.199},{"s":"S1: 1,5 l/s","t":"2020-12-31T00:00","v":0.205},
{"s":"S1: 1,5 l/s","t":"2021-01-13T02:00","v":0.192},{"s":"S1: 1,5 l/s","t":"2021-01-16T12:00","v":0.224},{"s":"S1: 1,5 l/s","t":"2021-01-20T17:00","v":0.237},{"s":"S1: 1,5 l/s","t":"2021-01-24T02:00","v":0.28},
{"s":"S1: 1,5 l/s","t":"2021-01-27T14:00","v":0.268},{"s":"S1: 1,5 l/s","t":"2021-01-31T17:00","v":0.356},{"s":"S1: 1,5 l/s","t":"2021-02-05T12:00","v":0.403},{"s":"S1: 1,5 l/s","t":"2021-02-09T00:00","v":0.38},
{"s":"S1: 1,5 l/s","t":"2021-02-13T02:00","v":0.35},{"s":"S1: 1,5 l/s","t":"2021-02-16T12:00","v":0.32},{"s":"S1: 1,5 l/s","t":"2021-02-20T00:00","v":0.293},{"s":"S1: 1,5 l/s","t":"2021-02-26T22:00","v":0.258},
{"s":"S1: 1,5 l/s","t":"2021-03-05T19:00","v":0.237},{"s":"S1: 1,5 l/s","t":"2021-03-14T02:00","v":0.221},{"s":"S1: 1,5 l/s","t":"2021-03-26T12:00","v":0.214},{"s":"S1: 1,5 l/s","t":"2021-04-02T07:00","v":0.211},
{"s":"S1: 1,5 l/s","t":"2021-04-10T14:00","v":0.211},{"s":"S1: 1,5 l/s","t":"2021-04-12T17:00","v":0.219},{"s":"S1: 1,5 l/s","t":"2021-04-20T22:00","v":0.208},{"s":"S1: 1,5 l/s","t":"2021-04-21T00:00","v":0.14},
{"s":"S1: 1,5 l/s","t":"2020-11-20T10:00","v":0.188},{"s":"S1: 1,5 l/s","t":"2020-11-20T12:00","v":0.15},{"s":"S1: 1,5 l/s","t":"2020-11-20T14:00","v":0.188},
{"s":"S1: 1,5 l/s","t":"2020-11-24T10:00","v":0.186},{"s":"S1: 1,5 l/s","t":"2020-11-24T12:00","v":0.165},{"s":"S1: 1,5 l/s","t":"2020-11-24T14:00","v":0.186},
{"s":"S1: 1,5 l/s","t":"2020-11-28T10:00","v":0.183},{"s":"S1: 1,5 l/s","t":"2020-11-28T12:00","v":0.139},{"s":"S1: 1,5 l/s","t":"2020-11-28T14:00","v":0.183},
{"s":"S1: 1,5 l/s","t":"2020-12-01T10:00","v":0.181},{"s":"S1: 1,5 l/s","t":"2020-12-01T12:00","v":0.152},{"s":"S1: 1,5 l/s","t":"2020-12-01T14:00","v":0.181},
{"s":"S1: 1,5 l/s","t":"2020-12-03T10:00","v":0.18},{"s":"S1: 1,5 l/s","t":"2020-12-03T12:00","v":0.142},{"s":"S1: 1,5 l/s","t":"2020-12-03T14:00","v":0.18},
{"s":"S1: 1,5 l/s","t":"2020-12-05T10:00","v":0.179},{"s":"S1: 1,5 l/s","t":"2020-12-05T12:00","v":0.16},{"s":"S1: 1,5 l/s","t":"2020-12-05T14:00","v":0.179},
{"s":"S1: 1,5 l/s","t":"2020-12-08T10:00","v":0.178},{"s":"S1: 1,5 l/s","t":"2020-12-08T12:00","v":0.145},{"s":"S1: 1,5 l/s","t":"2020-12-08T14:00","v":0.178},
{"s":"S1: 1,5 l/s","t":"2020-12-12T10:00","v":0.177},{"s":"S1: 1,5 l/s","t":"2020-12-12T12:00","v":0.14},{"s":"S1: 1,5 l/s","t":"2020-12-12T14:00","v":0.177},
{"s":"S1: 1,5 l/s","t":"2020-12-20T10:00","v":0.191},{"s":"S1: 1,5 l/s","t":"2020-12-20T12:00","v":0.165},{"s":"S1: 1,5 l/s","t":"2020-12-20T14:00","v":0.191},
{"s":"S1: 1,5 l/s","t":"2020-12-28T10:00","v":0.202},{"s":"S1: 1,5 l/s","t":"2020-12-28T12:00","v":0.175},{"s":"S1: 1,5 l/s","t":"2020-12-28T14:00","v":0.202},
{"s":"S1: 1,5 l/s","t":"2021-01-05T10:00","v":0.2},{"s":"S1: 1,5 l/s","t":"2021-01-05T12:00","v":0.17},{"s":"S1: 1,5 l/s","t":"2021-01-05T14:00","v":0.2},
{"s":"S1: 1,5 l/s","t":"2021-01-12T10:00","v":0.193},{"s":"S1: 1,5 l/s","t":"2021-01-12T12:00","v":0.16},{"s":"S1: 1,5 l/s","t":"2021-01-12T14:00","v":0.193},
{"s":"S1: 1,5 l/s","t":"2021-01-25T10:00","v":0.275},{"s":"S1: 1,5 l/s","t":"2021-01-25T12:00","v":0.25},{"s":"S1: 1,5 l/s","t":"2021-01-25T14:00","v":0.275},
{"s":"S1: 1,5 l/s","t":"2021-02-15T10:00","v":0.329},{"s":"S1: 1,5 l/s","t":"2021-02-15T12:00","v":0.29},{"s":"S1: 1,5 l/s","t":"2021-02-15T14:00","v":0.329},
{"s":"S1: 1,5 l/s","t":"2021-02-18T10:00","v":0.305},{"s":"S1: 1,5 l/s","t":"2021-02-18T12:00","v":0.27},{"s":"S1: 1,5 l/s","t":"2021-02-18T14:00","v":0.305},
{"s":"S1: 1,5 l/s","t":"2021-02-23T10:00","v":0.275},{"s":"S1: 1,5 l/s","t":"2021-02-23T12:00","v":0.245},{"s":"S1: 1,5 l/s","t":"2021-02-23T14:00","v":0.275},
{"s":"S1: 1,5 l/s","t":"2021-03-01T10:00","v":0.25},{"s":"S1: 1,5 l/s","t":"2021-03-01T12:00","v":0.22},{"s":"S1: 1,5 l/s","t":"2021-03-01T14:00","v":0.25},
{"s":"S1: 1,5 l/s","t":"2021-03-09T10:00","v":0.23},{"s":"S1: 1,5 l/s","t":"2021-03-09T12:00","v":0.2},{"s":"S1: 1,5 l/s","t":"2021-03-09T14:00","v":0.23},
{"s":"S1: 1,5 l/s","t":"2021-03-18T10:00","v":0.219},{"s":"S1: 1,5 l/s","t":"2021-03-18T12:00","v":0.195},{"s":"S1: 1,5 l/s","t":"2021-03-18T14:00","v":0.219},
{"s":"S1: 1,5 l/s","t":"2021-03-22T10:00","v":0.216},{"s":"S1: 1,5 l/s","t":"2021-03-22T12:00","v":0.19},{"s":"S1: 1,5 l/s","t":"2021-03-22T14:00","v":0.216},
{"s":"S1: 1,5 l/s","t":"2021-04-06T10:00","v":0.211},{"s":"S1: 1,5 l/s","t":"2021-04-06T12:00","v":0.19},{"s":"S1: 1,5 l/s","t":"2021-04-06T14:00","v":0.211},
{"s":"S1: 1,5 l/s","t":"2021-04-16T10:00","v":0.214},{"s":"S1: 1,5 l/s","t":"2021-04-16T12:00","v":0.19},{"s":"S1: 1,5 l/s","t":"2021-04-16T14:00","v":0.214},

{"s":"S2: 2 l/s","t":"2020-04-12T00:00","v":0},{"s":"S2: 2 l/s","t":"2020-04-20T15:00","v":0},{"s":"S2: 2 l/s","t":"2020-04-20T17:00","v":0.18},{"s":"S2: 2 l/s","t":"2020-04-25T02:00","v":0.18},
{"s":"S2: 2 l/s","t":"2020-04-25T05:00","v":-0.01},{"s":"S2: 2 l/s","t":"2020-04-29T07:00","v":-0.01},{"s":"S2: 2 l/s","t":"2020-04-29T09:00","v":0.17},{"s":"S2: 2 l/s","t":"2020-05-01T00:00","v":0.17},
{"s":"S2: 2 l/s","t":"2020-05-01T01:00","v":0.18},{"s":"S2: 2 l/s","t":"2020-05-04T10:00","v":0.18},{"s":"S2: 2 l/s","t":"2020-05-04T11:00","v":0.17},{"s":"S2: 2 l/s","t":"2020-05-12T17:00","v":0.17},
{"s":"S2: 2 l/s","t":"2020-05-12T18:00","v":0.18},{"s":"S2: 2 l/s","t":"2020-05-17T12:00","v":0.18},{"s":"S2: 2 l/s","t":"2020-05-17T13:00","v":0.17},{"s":"S2: 2 l/s","t":"2020-05-23T17:00","v":0.17},
{"s":"S2: 2 l/s","t":"2020-05-23T18:00","v":0.18},{"s":"S2: 2 l/s","t":"2020-05-27T05:00","v":0.18},{"s":"S2: 2 l/s","t":"2020-05-27T06:00","v":0.17},{"s":"S2: 2 l/s","t":"2020-05-31T07:00","v":0.17},
{"s":"S2: 2 l/s","t":"2020-05-31T08:00","v":0.16},{"s":"S2: 2 l/s","t":"2020-06-04T10:00","v":0.16},{"s":"S2: 2 l/s","t":"2020-06-04T11:00","v":0.17},{"s":"S2: 2 l/s","t":"2020-06-09T07:00","v":0.17},
{"s":"S2: 2 l/s","t":"2020-06-09T08:00","v":0.18},{"s":"S2: 2 l/s","t":"2020-06-14T02:00","v":0.18},{"s":"S2: 2 l/s","t":"2020-06-14T03:00","v":0.17},{"s":"S2: 2 l/s","t":"2020-06-16T19:00","v":0.17},
{"s":"S2: 2 l/s","t":"2020-06-16T20:00","v":0.18},{"s":"S2: 2 l/s","t":"2020-06-23T00:00","v":0.18},{"s":"S2: 2 l/s","t":"2020-06-23T01:00","v":0.17},{"s":"S2: 2 l/s","t":"2020-06-26T05:00","v":0.17},
{"s":"S2: 2 l/s","t":"2020-06-26T07:00","v":-0.02},{"s":"S2: 2 l/s","t":"2020-07-01T00:00","v":-0.02},{"s":"S2: 2 l/s","t":"2020-07-01T02:00","v":0.17},{"s":"S2: 2 l/s","t":"2020-07-07T12:00","v":0.17},
{"s":"S2: 2 l/s","t":"2020-07-07T13:00","v":0.16},{"s":"S2: 2 l/s","t":"2020-07-11T14:00","v":0.16},{"s":"S2: 2 l/s","t":"2020-07-11T15:00","v":0.15},{"s":"S2: 2 l/s","t":"2020-07-15T02:00","v":0.15},
{"s":"S2: 2 l/s","t":"2020-07-15T03:00","v":0.17},{"s":"S2: 2 l/s","t":"2020-07-19T22:00","v":0.17},{"s":"S2: 2 l/s","t":"2020-07-19T23:00","v":0.16},{"s":"S2: 2 l/s","t":"2020-07-24T02:00","v":0.16},
{"s":"S2: 2 l/s","t":"2020-07-24T03:00","v":0.15},{"s":"S2: 2 l/s","t":"2020-08-09T14:00","v":0.15},{"s":"S2: 2 l/s","t":"2020-08-16T12:00","v":0.14},{"s":"S2: 2 l/s","t":"2020-08-17T22:00","v":0.137},
{"s":"S2: 2 l/s","t":"2020-08-18T14:00","v":0.165},{"s":"S2: 2 l/s","t":"2020-08-22T00:00","v":0.172},{"s":"S2: 2 l/s","t":"2020-08-22T10:00","v":0.17},{"s":"S2: 2 l/s","t":"2020-08-22T12:00","v":-0.02},
{"s":"S2: 2 l/s","t":"2020-08-28T12:00","v":-0.022},{"s":"S2: 2 l/s","t":"2020-08-28T14:00","v":0.165},{"s":"S2: 2 l/s","t":"2020-08-31T17:00","v":0.187},{"s":"S2: 2 l/s","t":"2020-09-08T05:00","v":0.172},
{"s":"S2: 2 l/s","t":"2020-09-15T19:00","v":0.159},{"s":"S2: 2 l/s","t":"2020-09-16T04:00","v":0.159},{"s":"S2: 2 l/s","t":"2020-09-16T05:00","v":0.1},{"s":"S2: 2 l/s","t":"2020-09-16T06:00","v":0.159},
{"s":"S2: 2 l/s","t":"2020-09-25T12:00","v":0.168},{"s":"S2: 2 l/s","t":"2020-10-02T10:00","v":0.174},{"s":"S2: 2 l/s","t":"2020-10-12T00:00","v":0.184},{"s":"S2: 2 l/s","t":"2020-10-21T17:00","v":0.174},
{"s":"S2: 2 l/s","t":"2020-10-27T05:00","v":0.197},{"s":"S2: 2 l/s","t":"2020-11-01T17:00","v":0.199},{"s":"S2: 2 l/s","t":"2020-11-08T14:00","v":0.191},{"s":"S2: 2 l/s","t":"2020-11-19T14:00","v":0.181},
{"s":"S2: 2 l/s","t":"2020-11-30T17:00","v":0.174},{"s":"S2: 2 l/s","t":"2020-12-11T17:00","v":0.168},{"s":"S2: 2 l/s","t":"2020-12-17T05:00","v":0.178},{"s":"S2: 2 l/s","t":"2020-12-25T12:00","v":0.191},
{"s":"S2: 2 l/s","t":"2020-12-31T00:00","v":0.197},{"s":"S2: 2 l/s","t":"2021-01-13T02:00","v":0.184},{"s":"S2: 2 l/s","t":"2021-01-16T12:00","v":0.216},{"s":"S2: 2 l/s","t":"2021-01-20T17:00","v":0.229},
{"s":"S2: 2 l/s","t":"2021-01-24T02:00","v":0.271},{"s":"S2: 2 l/s","t":"2021-01-27T14:00","v":0.261},{"s":"S2: 2 l/s","t":"2021-01-31T17:00","v":0.345},{"s":"S2: 2 l/s","t":"2021-02-05T12:00","v":0.39},
{"s":"S2: 2 l/s","t":"2021-02-09T00:00","v":0.365},{"s":"S2: 2 l/s","t":"2021-02-13T02:00","v":0.335},{"s":"S2: 2 l/s","t":"2021-02-16T12:00","v":0.305},{"s":"S2: 2 l/s","t":"2021-02-20T00:00","v":0.283},
{"s":"S2: 2 l/s","t":"2021-02-26T22:00","v":0.246},{"s":"S2: 2 l/s","t":"2021-03-05T19:00","v":0.223},{"s":"S2: 2 l/s","t":"2021-03-14T02:00","v":0.207},{"s":"S2: 2 l/s","t":"2021-03-26T12:00","v":0.199},
{"s":"S2: 2 l/s","t":"2021-04-02T07:00","v":0.197},{"s":"S2: 2 l/s","t":"2021-04-10T14:00","v":0.194},{"s":"S2: 2 l/s","t":"2021-04-12T17:00","v":0.202},{"s":"S2: 2 l/s","t":"2021-04-20T22:00","v":0.19},

{"s":"S3: 2,5 l/s","t":"2020-04-12T00:00","v":0},{"s":"S3: 2,5 l/s","t":"2020-04-20T15:00","v":0},{"s":"S3: 2,5 l/s","t":"2020-04-20T17:00","v":0.23},{"s":"S3: 2,5 l/s","t":"2020-04-21T12:00","v":0.24},
{"s":"S3: 2,5 l/s","t":"2020-04-22T17:00","v":0.24},{"s":"S3: 2,5 l/s","t":"2020-04-22T19:00","v":0.23},{"s":"S3: 2,5 l/s","t":"2020-04-25T00:00","v":0.23},{"s":"S3: 2,5 l/s","t":"2020-04-25T02:00","v":0.25},
{"s":"S3: 2,5 l/s","t":"2020-04-25T05:00","v":-0.01},{"s":"S3: 2,5 l/s","t":"2020-04-29T07:00","v":-0.01},{"s":"S3: 2,5 l/s","t":"2020-04-29T09:00","v":0.23},{"s":"S3: 2,5 l/s","t":"2020-05-06T12:00","v":0.23},
{"s":"S3: 2,5 l/s","t":"2020-05-06T13:00","v":0.22},{"s":"S3: 2,5 l/s","t":"2020-05-10T15:00","v":0.22},{"s":"S3: 2,5 l/s","t":"2020-05-10T16:00","v":0.23},{"s":"S3: 2,5 l/s","t":"2020-05-17T12:00","v":0.23},
{"s":"S3: 2,5 l/s","t":"2020-05-17T13:00","v":0.22},{"s":"S3: 2,5 l/s","t":"2020-05-23T00:00","v":0.22},{"s":"S3: 2,5 l/s","t":"2020-05-23T01:00","v":0.23},{"s":"S3: 2,5 l/s","t":"2020-05-27T05:00","v":0.23},
{"s":"S3: 2,5 l/s","t":"2020-05-27T06:00","v":0.22},{"s":"S3: 2,5 l/s","t":"2020-06-01T17:00","v":0.22},{"s":"S3: 2,5 l/s","t":"2020-06-01T18:00","v":0.21},{"s":"S3: 2,5 l/s","t":"2020-06-02T19:00","v":0.21},
{"s":"S3: 2,5 l/s","t":"2020-06-02T20:00","v":0.22},{"s":"S3: 2,5 l/s","t":"2020-06-07T05:00","v":0.22},{"s":"S3: 2,5 l/s","t":"2020-06-07T06:00","v":0.23},{"s":"S3: 2,5 l/s","t":"2020-06-17T12:00","v":0.23},
{"s":"S3: 2,5 l/s","t":"2020-06-17T13:00","v":0.24},{"s":"S3: 2,5 l/s","t":"2020-06-23T00:00","v":0.24},{"s":"S3: 2,5 l/s","t":"2020-06-23T01:00","v":0.23},{"s":"S3: 2,5 l/s","t":"2020-06-26T12:00","v":0.23},
{"s":"S3: 2,5 l/s","t":"2020-06-26T14:00","v":-0.02},{"s":"S3: 2,5 l/s","t":"2020-07-01T00:00","v":-0.02},{"s":"S3: 2,5 l/s","t":"2020-07-01T02:00","v":0.23},{"s":"S3: 2,5 l/s","t":"2020-07-03T10:00","v":0.23},
{"s":"S3: 2,5 l/s","t":"2020-07-03T11:00","v":0.24},{"s":"S3: 2,5 l/s","t":"2020-07-04T19:00","v":0.24},{"s":"S3: 2,5 l/s","t":"2020-07-04T20:00","v":0.23},{"s":"S3: 2,5 l/s","t":"2020-07-08T22:00","v":0.23},
{"s":"S3: 2,5 l/s","t":"2020-07-08T23:00","v":0.22},{"s":"S3: 2,5 l/s","t":"2020-07-12T10:00","v":0.22},{"s":"S3: 2,5 l/s","t":"2020-07-12T11:00","v":0.21},{"s":"S3: 2,5 l/s","t":"2020-07-15T19:00","v":0.21},
{"s":"S3: 2,5 l/s","t":"2020-07-15T20:00","v":0.23},{"s":"S3: 2,5 l/s","t":"2020-07-20T14:00","v":0.23},{"s":"S3: 2,5 l/s","t":"2020-07-20T15:00","v":0.22},{"s":"S3: 2,5 l/s","t":"2020-07-24T19:00","v":0.22},
{"s":"S3: 2,5 l/s","t":"2020-07-24T20:00","v":0.21},{"s":"S3: 2,5 l/s","t":"2020-08-09T14:00","v":0.21},{"s":"S3: 2,5 l/s","t":"2020-08-12T10:00","v":0.212},{"s":"S3: 2,5 l/s","t":"2020-08-15T02:00","v":0.205},
{"s":"S3: 2,5 l/s","t":"2020-08-16T12:00","v":0.203},{"s":"S3: 2,5 l/s","t":"2020-08-18T14:00","v":0.225},{"s":"S3: 2,5 l/s","t":"2020-08-21T07:00","v":0.235},{"s":"S3: 2,5 l/s","t":"2020-08-22T09:00","v":0.235},
{"s":"S3: 2,5 l/s","t":"2020-08-22T11:00","v":-0.02},{"s":"S3: 2,5 l/s","t":"2020-08-28T12:00","v":-0.02},{"s":"S3: 2,5 l/s","t":"2020-08-28T14:00","v":0.24},{"s":"S3: 2,5 l/s","t":"2020-08-31T17:00","v":0.25},
{"s":"S3: 2,5 l/s","t":"2020-09-08T05:00","v":0.235},{"s":"S3: 2,5 l/s","t":"2020-09-15T19:00","v":0.224},{"s":"S3: 2,5 l/s","t":"2020-09-16T04:00","v":0.224},{"s":"S3: 2,5 l/s","t":"2020-09-16T05:00","v":0.245},
{"s":"S3: 2,5 l/s","t":"2020-09-16T06:00","v":0.17},{"s":"S3: 2,5 l/s","t":"2020-09-16T07:00","v":0.224},{"s":"S3: 2,5 l/s","t":"2020-09-25T12:00","v":0.233},{"s":"S3: 2,5 l/s","t":"2020-10-02T10:00","v":0.24},
{"s":"S3: 2,5 l/s","t":"2020-10-12T00:00","v":0.248},{"s":"S3: 2,5 l/s","t":"2020-10-21T17:00","v":0.24},{"s":"S3: 2,5 l/s","t":"2020-10-27T05:00","v":0.261},{"s":"S3: 2,5 l/s","t":"2020-11-01T17:00","v":0.264},
{"s":"S3: 2,5 l/s","t":"2020-11-08T14:00","v":0.259},{"s":"S3: 2,5 l/s","t":"2020-11-19T14:00","v":0.249},{"s":"S3: 2,5 l/s","t":"2020-11-30T17:00","v":0.241},{"s":"S3: 2,5 l/s","t":"2020-12-11T17:00","v":0.236},
{"s":"S3: 2,5 l/s","t":"2020-12-17T05:00","v":0.244},{"s":"S3: 2,5 l/s","t":"2020-12-25T12:00","v":0.26},{"s":"S3: 2,5 l/s","t":"2020-12-31T00:00","v":0.265},{"s":"S3: 2,5 l/s","t":"2021-01-13T02:00","v":0.258},
{"s":"S3: 2,5 l/s","t":"2021-01-16T12:00","v":0.284},{"s":"S3: 2,5 l/s","t":"2021-01-20T17:00","v":0.293},{"s":"S3: 2,5 l/s","t":"2021-01-24T02:00","v":0.342},{"s":"S3: 2,5 l/s","t":"2021-01-27T14:00","v":0.331},
{"s":"S3: 2,5 l/s","t":"2021-01-31T17:00","v":0.394},{"s":"S3: 2,5 l/s","t":"2021-02-05T12:00","v":0.451},{"s":"S3: 2,5 l/s","t":"2021-02-09T00:00","v":0.43},{"s":"S3: 2,5 l/s","t":"2021-02-13T02:00","v":0.404},
{"s":"S3: 2,5 l/s","t":"2021-02-16T12:00","v":0.378},{"s":"S3: 2,5 l/s","t":"2021-02-20T00:00","v":0.357},{"s":"S3: 2,5 l/s","t":"2021-02-26T22:00","v":0.322},{"s":"S3: 2,5 l/s","t":"2021-03-05T19:00","v":0.3},
{"s":"S3: 2,5 l/s","t":"2021-03-14T02:00","v":0.278},{"s":"S3: 2,5 l/s","t":"2021-03-26T12:00","v":0.27},{"s":"S3: 2,5 l/s","t":"2021-04-02T07:00","v":0.268},{"s":"S3: 2,5 l/s","t":"2021-04-10T14:00","v":0.264},
{"s":"S3: 2,5 l/s","t":"2021-04-12T17:00","v":0.272},{"s":"S3: 2,5 l/s","t":"2021-04-20T22:00","v":0.262},

{"s":"S4: 1,5 l/s","t":"2020-04-12T00:00","v":0},{"s":"S4: 1,5 l/s","t":"2020-04-20T15:00","v":0},{"s":"S4: 1,5 l/s","t":"2020-04-20T17:00","v":0.176},{"s":"S4: 1,5 l/s","t":"2020-04-25T02:00","v":0.176},
{"s":"S4: 1,5 l/s","t":"2020-04-25T05:00","v":-0.012},{"s":"S4: 1,5 l/s","t":"2020-04-29T07:00","v":-0.012},{"s":"S4: 1,5 l/s","t":"2020-04-29T09:00","v":0.176},{"s":"S4: 1,5 l/s","t":"2020-05-04T10:00","v":0.176},
{"s":"S4: 1,5 l/s","t":"2020-05-04T11:00","v":0.168},{"s":"S4: 1,5 l/s","t":"2020-05-12T17:00","v":0.168},{"s":"S4: 1,5 l/s","t":"2020-05-12T18:00","v":0.176},{"s":"S4: 1,5 l/s","t":"2020-05-17T12:00","v":0.176},
{"s":"S4: 1,5 l/s","t":"2020-05-17T13:00","v":0.168},{"s":"S4: 1,5 l/s","t":"2020-05-23T17:00","v":0.168},{"s":"S4: 1,5 l/s","t":"2020-05-23T18:00","v":0.176},{"s":"S4: 1,5 l/s","t":"2020-05-27T05:00","v":0.176},
{"s":"S4: 1,5 l/s","t":"2020-05-27T06:00","v":0.168},{"s":"S4: 1,5 l/s","t":"2020-05-31T07:00","v":0.168},{"s":"S4: 1,5 l/s","t":"2020-05-31T08:00","v":0.158},{"s":"S4: 1,5 l/s","t":"2020-06-04T10:00","v":0.158},
{"s":"S4: 1,5 l/s","t":"2020-06-04T11:00","v":0.168},{"s":"S4: 1,5 l/s","t":"2020-06-09T07:00","v":0.168},{"s":"S4: 1,5 l/s","t":"2020-06-09T08:00","v":0.176},{"s":"S4: 1,5 l/s","t":"2020-06-14T02:00","v":0.176},
{"s":"S4: 1,5 l/s","t":"2020-06-14T03:00","v":0.168},{"s":"S4: 1,5 l/s","t":"2020-06-16T19:00","v":0.168},{"s":"S4: 1,5 l/s","t":"2020-06-16T20:00","v":0.176},{"s":"S4: 1,5 l/s","t":"2020-06-23T00:00","v":0.176},
{"s":"S4: 1,5 l/s","t":"2020-06-23T01:00","v":0.168},{"s":"S4: 1,5 l/s","t":"2020-06-26T05:00","v":0.168},{"s":"S4: 1,5 l/s","t":"2020-06-26T07:00","v":-0.022},{"s":"S4: 1,5 l/s","t":"2020-07-01T00:00","v":-0.022},
{"s":"S4: 1,5 l/s","t":"2020-07-01T02:00","v":0.168},{"s":"S4: 1,5 l/s","t":"2020-07-07T12:00","v":0.168},{"s":"S4: 1,5 l/s","t":"2020-07-07T13:00","v":0.158},{"s":"S4: 1,5 l/s","t":"2020-07-11T14:00","v":0.158},
{"s":"S4: 1,5 l/s","t":"2020-07-11T15:00","v":0.148},{"s":"S4: 1,5 l/s","t":"2020-07-15T02:00","v":0.148},{"s":"S4: 1,5 l/s","t":"2020-07-15T03:00","v":0.168},{"s":"S4: 1,5 l/s","t":"2020-07-19T22:00","v":0.168},
{"s":"S4: 1,5 l/s","t":"2020-07-19T23:00","v":0.158},{"s":"S4: 1,5 l/s","t":"2020-07-24T02:00","v":0.158},{"s":"S4: 1,5 l/s","t":"2020-07-24T03:00","v":0.148},{"s":"S4: 1,5 l/s","t":"2020-08-09T14:00","v":0.148},
{"s":"S4: 1,5 l/s","t":"2020-08-16T12:00","v":0.138},{"s":"S4: 1,5 l/s","t":"2020-08-17T22:00","v":0.135},{"s":"S4: 1,5 l/s","t":"2020-08-18T14:00","v":0.162},{"s":"S4: 1,5 l/s","t":"2020-08-22T00:00","v":0.168},
{"s":"S4: 1,5 l/s","t":"2020-08-22T10:00","v":0.166},{"s":"S4: 1,5 l/s","t":"2020-08-22T12:00","v":-0.025},{"s":"S4: 1,5 l/s","t":"2020-08-28T12:00","v":-0.025},{"s":"S4: 1,5 l/s","t":"2020-08-28T14:00","v":0.16},
{"s":"S4: 1,5 l/s","t":"2020-08-31T17:00","v":0.183},{"s":"S4: 1,5 l/s","t":"2020-09-08T05:00","v":0.168},{"s":"S4: 1,5 l/s","t":"2020-09-15T19:00","v":0.155},{"s":"S4: 1,5 l/s","t":"2020-09-16T04:00","v":0.155},
{"s":"S4: 1,5 l/s","t":"2020-09-16T05:00","v":-0.032},{"s":"S4: 1,5 l/s","t":"2020-09-16T06:00","v":0.155},{"s":"S4: 1,5 l/s","t":"2020-09-25T12:00","v":0.164},{"s":"S4: 1,5 l/s","t":"2020-10-02T10:00","v":0.17},
{"s":"S4: 1,5 l/s","t":"2020-10-12T00:00","v":0.18},{"s":"S4: 1,5 l/s","t":"2020-10-21T17:00","v":0.17},{"s":"S4: 1,5 l/s","t":"2020-10-27T05:00","v":0.193},{"s":"S4: 1,5 l/s","t":"2020-11-01T17:00","v":0.195},
{"s":"S4: 1,5 l/s","t":"2020-11-08T14:00","v":0.187},{"s":"S4: 1,5 l/s","t":"2020-11-19T14:00","v":0.177},{"s":"S4: 1,5 l/s","t":"2020-11-30T17:00","v":0.17},{"s":"S4: 1,5 l/s","t":"2020-12-11T17:00","v":0.164},
{"s":"S4: 1,5 l/s","t":"2020-12-17T05:00","v":0.174},{"s":"S4: 1,5 l/s","t":"2020-12-25T12:00","v":0.187},{"s":"S4: 1,5 l/s","t":"2020-12-31T00:00","v":0.193},{"s":"S4: 1,5 l/s","t":"2021-01-13T02:00","v":0.18},
{"s":"S4: 1,5 l/s","t":"2021-01-16T12:00","v":0.212},{"s":"S4: 1,5 l/s","t":"2021-01-20T17:00","v":0.225},{"s":"S4: 1,5 l/s","t":"2021-01-24T02:00","v":0.267},{"s":"S4: 1,5 l/s","t":"2021-01-27T14:00","v":0.257},
{"s":"S4: 1,5 l/s","t":"2021-01-31T17:00","v":0.34},{"s":"S4: 1,5 l/s","t":"2021-02-05T12:00","v":0.383},{"s":"S4: 1,5 l/s","t":"2021-02-09T00:00","v":0.358},{"s":"S4: 1,5 l/s","t":"2021-02-13T02:00","v":0.328},
{"s":"S4: 1,5 l/s","t":"2021-02-16T12:00","v":0.298},{"s":"S4: 1,5 l/s","t":"2021-02-20T00:00","v":0.276},{"s":"S4: 1,5 l/s","t":"2021-02-26T22:00","v":0.24},{"s":"S4: 1,5 l/s","t":"2021-03-05T19:00","v":0.217},
{"s":"S4: 1,5 l/s","t":"2021-03-14T02:00","v":0.201},{"s":"S4: 1,5 l/s","t":"2021-03-26T12:00","v":0.193},{"s":"S4: 1,5 l/s","t":"2021-04-02T07:00","v":0.191},{"s":"S4: 1,5 l/s","t":"2021-04-10T14:00","v":0.188},
{"s":"S4: 1,5 l/s","t":"2021-04-12T17:00","v":0.196},{"s":"S4: 1,5 l/s","t":"2021-04-20T22:00","v":0.185}
]
},
"resolve": {"scale": {"color": "independent", "strokeWidth": "independent"}, "legend": {"color": "independent", "strokeWidth": "independent"}},
"vconcat": [
{
 "width": 910, "height": 316,
 "layer": [
  {
   "data": {"name": "precip"},
   "layer": [
    {"mark": {"type": "rule", "color": "#cdcdcd", "strokeWidth": 1},
     "encoding": {
      "x": {"field": "t", "type": "temporal",
            "scale": {"domain": [{"year": 2020, "month": 4, "date": 9, "hours": 21}, {"year": 2021, "month": 4, "date": 22, "hours": 5}]},
            "axis": {"orient": "bottom", "tickCount": {"interval": "day", "step": 1}, "labels": false, "tickSize": 4, "tickColor": "#333", "offset": 2, "domain": false, "grid": false, "title": null}},
      "y": {"field": "mm", "type": "quantitative", "scale": {"domain": [0, 18], "nice": false},
            "axis": {"orient": "right", "values": [0,1,2,3,4,5,6,7,8,9,10,11,12,13,14,15,16,17,18], "format": "d", "title": "Niederschlag [mm]", "titleFontSize": 14, "titleFontWeight": "normal", "titlePadding": 10, "labelPadding": 3, "tickSize": 5, "tickColor": "#333", "domainColor": "#444", "domainWidth": 1.5, "grid": false, "labelFontSize": 14, "labelFlush": false, "labelOverlap": false, "labelSeparation": 0}},
      "y2": {"datum": 0}
     }},
    {"mark": {"type": "circle", "color": "#3cf0f0", "size": 7, "opacity": 1},
     "encoding": {"x": {"field": "t", "type": "temporal", "axis": null},
                  "y": {"field": "mm", "type": "quantitative", "axis": null}}},
    {"data": {"values": [{}]}, "mark": {"type": "rule", "color": "#3cf0f0", "strokeWidth": 2},
     "encoding": {"y": {"datum": 0, "type": "quantitative", "axis": null}}}
   ],
   "resolve": {"axis": {"x": "independent", "y": "independent"}}
  },
  {
   "data": {"name": "top"},
   "layer": [
    {"mark": {"type": "line", "strokeJoin": "round"},
     "encoding": {
      "x": {"field": "t", "type": "temporal",
            "scale": {"domain": [{"year": 2020, "month": 4, "date": 9, "hours": 21}, {"year": 2021, "month": 4, "date": 22, "hours": 5}]},
            "axis": {"orient": "bottom", "values": [{"year":2020,"month":4,"date":11},{"year":2020,"month":4,"date":25},{"year":2020,"month":5,"date":9},{"year":2020,"month":5,"date":23},{"year":2020,"month":6,"date":6},{"year":2020,"month":6,"date":20},{"year":2020,"month":7,"date":4},{"year":2020,"month":7,"date":18},{"year":2020,"month":8,"date":1},{"year":2020,"month":8,"date":15},{"year":2020,"month":8,"date":29},{"year":2020,"month":9,"date":12},{"year":2020,"month":9,"date":26},{"year":2020,"month":10,"date":10},{"year":2020,"month":10,"date":24},{"year":2020,"month":11,"date":7},{"year":2020,"month":11,"date":21},{"year":2020,"month":12,"date":5},{"year":2020,"month":12,"date":19},{"year":2021,"month":1,"date":2},{"year":2021,"month":1,"date":16},{"year":2021,"month":1,"date":30},{"year":2021,"month":2,"date":13},{"year":2021,"month":2,"date":27},{"year":2021,"month":3,"date":13},{"year":2021,"month":3,"date":27},{"year":2021,"month":4,"date":10}],
                     "labelExpr": "(round((datum.value - datetime(2020,3,11))/86400000) % 28 == 0) ? timeFormat(datum.value, '%d.%m.%y') : ''",
                     "labelFlush": false, "labelOverlap": false, "tickSize": 9, "tickColor": "#333", "offset": 2, "domain": false, "grid": false, "labelPadding": 2, "labelFontSize": 14, "title": null}},
      "y": {"field": "v", "type": "quantitative", "scale": {"domain": [-0.8, 0.1], "nice": false, "zero": false},
            "axis": {"orient": "left", "values": [-0.8,-0.7,-0.6,-0.5,-0.4,-0.3,-0.2,-0.1,0,0.1], "format": ".1f", "title": "GWstandsänderung Entnahmestelle [m]", "titleFontSize": 13, "titleFontWeight": "bold", "titlePadding": 14, "labelPadding": 8, "tickSize": 5, "tickColor": "#333", "domainColor": "#444", "domainWidth": 1.5, "grid": true, "gridDash": [10, 7], "gridColor": "#a6a6a6", "gridWidth": 1.3, "labelFontSize": 14, "labelFlush": false, "labelOverlap": false}},
      "color": {"field": "s", "type": "nominal",
                "scale": {"domain": ["E1: 1l/s", "E2: 4,6 l/s", "E3: 1,9 l/s", "Niederschlag"], "range": ["#7474ee", "#1c76bd", "#2cf2f2", "#d6d6d6"]},
                "legend": {"orient": "none", "legendX": -238, "legendY": 22, "direction": "vertical", "title": "GWstandsänderungen", "titleFontSize": 14, "titleFontWeight": "normal", "titleAnchor": "middle", "titleAlign": "center", "titlePadding": 8, "labelFontSize": 14, "symbolType": "M-1,0H7", "symbolSize": 196, "symbolStrokeWidth": 2, "labelOffset": 49, "rowPadding": 4, "padding": 11, "strokeColor": "#555", "fillColor": "white",
                           "encode": {"symbols": {"update": {"strokeWidth": {"value": 2}}}}}},
      "strokeWidth": {"field": "s", "type": "nominal", "scale": {"domain": ["E1: 1l/s", "E2: 4,6 l/s", "E3: 1,9 l/s", "Niederschlag"], "range": [2.3, 2.3, 2.3, 1]}, "legend": null}
     }},
    {"mark": {"type": "line", "opacity": 0},
     "encoding": {
      "x": {"field": "t", "type": "temporal"},
      "y": {"field": "v", "type": "quantitative",
            "axis": {"orient": "left", "values": [-0.8,-0.78,-0.76,-0.74,-0.72,-0.7,-0.68,-0.66,-0.64,-0.62,-0.6,-0.58,-0.56,-0.54,-0.52,-0.5,-0.48,-0.46,-0.44,-0.42,-0.4,-0.38,-0.36,-0.34,-0.32,-0.3,-0.28,-0.26,-0.24,-0.22,-0.2,-0.18,-0.16,-0.14,-0.12,-0.1,-0.08,-0.06,-0.04,-0.02,0,0.02,0.04,0.06,0.08,0.1], "labels": false, "tickSize": 3, "tickColor": "#333", "domain": false, "grid": false, "title": null}},
      "detail": {"field": "s", "type": "nominal"}
     }}
   ],
   "resolve": {"axis": {"y": "independent"}}
  }
 ],
 "resolve": {"scale": {"y": "independent"}, "axis": {"x": "independent"}}
},
{
 "width": 910, "height": 317,
 "layer": [
  {
   "data": {"name": "precip"},
   "layer": [
    {"mark": {"type": "rule", "color": "#cdcdcd", "strokeWidth": 1},
     "encoding": {
      "x": {"field": "t", "type": "temporal",
            "scale": {"domain": [{"year": 2020, "month": 4, "date": 9, "hours": 21}, {"year": 2021, "month": 4, "date": 22, "hours": 5}]},
            "axis": {"orient": "bottom", "tickCount": {"interval": "day", "step": 1}, "labels": false, "tickSize": 4, "tickColor": "#333", "offset": 2, "domain": false, "grid": false, "title": null}},
      "y": {"field": "mm", "type": "quantitative", "scale": {"domain": [0, 18], "nice": false},
            "axis": {"orient": "right", "values": [0,1,2,3,4,5,6,7,8,9,10,11,12,13,14,15,16,17,18], "format": "d", "title": "Niederschlag [mm]", "titleFontSize": 14, "titleFontWeight": "normal", "titlePadding": 10, "labelPadding": 3, "tickSize": 5, "tickColor": "#333", "domainColor": "#444", "domainWidth": 1.5, "grid": false, "labelFontSize": 14, "labelFlush": false, "labelOverlap": false, "labelSeparation": 0}},
      "y2": {"datum": 0}
     }},
    {"mark": {"type": "circle", "color": "#3cf0f0", "size": 7, "opacity": 1},
     "encoding": {"x": {"field": "t", "type": "temporal", "axis": null},
                  "y": {"field": "mm", "type": "quantitative", "axis": null}}},
    {"data": {"values": [{}]}, "mark": {"type": "rule", "color": "#3cf0f0", "strokeWidth": 2},
     "encoding": {"y": {"datum": 0, "type": "quantitative", "axis": null}}}
   ],
   "resolve": {"axis": {"x": "independent", "y": "independent"}}
  },
  {
   "data": {"name": "bot"},
   "layer": [
    {"mark": {"type": "line", "strokeJoin": "round"},
     "encoding": {
      "x": {"field": "t", "type": "temporal",
            "scale": {"domain": [{"year": 2020, "month": 4, "date": 9, "hours": 21}, {"year": 2021, "month": 4, "date": 22, "hours": 5}]},
            "axis": {"orient": "bottom", "values": [{"year":2020,"month":4,"date":11},{"year":2020,"month":4,"date":25},{"year":2020,"month":5,"date":9},{"year":2020,"month":5,"date":23},{"year":2020,"month":6,"date":6},{"year":2020,"month":6,"date":20},{"year":2020,"month":7,"date":4},{"year":2020,"month":7,"date":18},{"year":2020,"month":8,"date":1},{"year":2020,"month":8,"date":15},{"year":2020,"month":8,"date":29},{"year":2020,"month":9,"date":12},{"year":2020,"month":9,"date":26},{"year":2020,"month":10,"date":10},{"year":2020,"month":10,"date":24},{"year":2020,"month":11,"date":7},{"year":2020,"month":11,"date":21},{"year":2020,"month":12,"date":5},{"year":2020,"month":12,"date":19},{"year":2021,"month":1,"date":2},{"year":2021,"month":1,"date":16},{"year":2021,"month":1,"date":30},{"year":2021,"month":2,"date":13},{"year":2021,"month":2,"date":27},{"year":2021,"month":3,"date":13},{"year":2021,"month":3,"date":27},{"year":2021,"month":4,"date":10}],
                     "labelExpr": "(round((datum.value - datetime(2020,3,11))/86400000) % 28 == 0) ? timeFormat(datum.value, '%d.%m.%y') : ''",
                     "labelFlush": false, "labelOverlap": false, "tickSize": 9, "tickColor": "#333", "offset": 2, "domain": false, "grid": false, "labelPadding": 2, "labelFontSize": 14, "title": null}},
      "y": {"field": "v", "type": "quantitative", "scale": {"domain": [-0.1, 0.5], "nice": false, "zero": false},
            "axis": {"orient": "left", "values": [-0.1,0,0.1,0.2,0.3,0.4,0.5], "format": ".1f", "title": "GWstandsänderung Reinfiltrationsstelle [m]", "titleFontSize": 13, "titleFontWeight": "bold", "titlePadding": 14, "labelPadding": 8, "tickSize": 5, "tickColor": "#333", "domainColor": "#444", "domainWidth": 1.5, "grid": true, "gridDash": [10, 7], "gridColor": "#a6a6a6", "gridWidth": 1.3, "labelFontSize": 14, "labelFlush": false, "labelOverlap": false}},
      "color": {"field": "s", "type": "nominal",
                "scale": {"domain": ["S1: 1,5 l/s", "S2: 2 l/s", "S3: 2,5 l/s", "S4: 1,5 l/s", "Niederschlag"], "range": ["#0a840a", "#a8c620", "#29c792", "#9cd53a", "#dcdcdc"]},
                "legend": {"orient": "none", "legendX": -239, "legendY": 13, "direction": "vertical", "title": "GWstandsänderungen", "titleFontSize": 14, "titleFontWeight": "normal", "titleAnchor": "middle", "titleAlign": "center", "titlePadding": 8, "labelFontSize": 14, "symbolType": "M-1,0H7", "symbolSize": 196, "symbolStrokeWidth": 2, "labelOffset": 49, "rowPadding": 4, "padding": 11, "strokeColor": "#555", "fillColor": "white",
                           "encode": {"symbols": {"update": {"strokeWidth": {"value": 2}}}}}},
      "strokeWidth": {"field": "s", "type": "nominal", "scale": {"domain": ["S1: 1,5 l/s", "S2: 2 l/s", "S3: 2,5 l/s", "S4: 1,5 l/s", "Niederschlag"], "range": [4, 2.5, 1.6, 1.8, 1]}, "legend": null}
     }},
    {"mark": {"type": "line", "opacity": 0},
     "encoding": {
      "x": {"field": "t", "type": "temporal"},
      "y": {"field": "v", "type": "quantitative",
            "axis": {"orient": "left", "values": [-0.1,-0.08,-0.06,-0.04,-0.02,0,0.02,0.04,0.06,0.08,0.1,0.12,0.14,0.16,0.18,0.2,0.22,0.24,0.26,0.28,0.3,0.32,0.34,0.36,0.38,0.4,0.42,0.44,0.46,0.48,0.5], "labels": false, "tickSize": 3, "tickColor": "#333", "domain": false, "grid": false, "title": null}},
      "detail": {"field": "s", "type": "nominal"}
     }}
   ],
   "resolve": {"axis": {"y": "independent"}}
  }
 ],
 "resolve": {"scale": {"y": "independent"}, "axis": {"x": "independent"}}
}
]
}
